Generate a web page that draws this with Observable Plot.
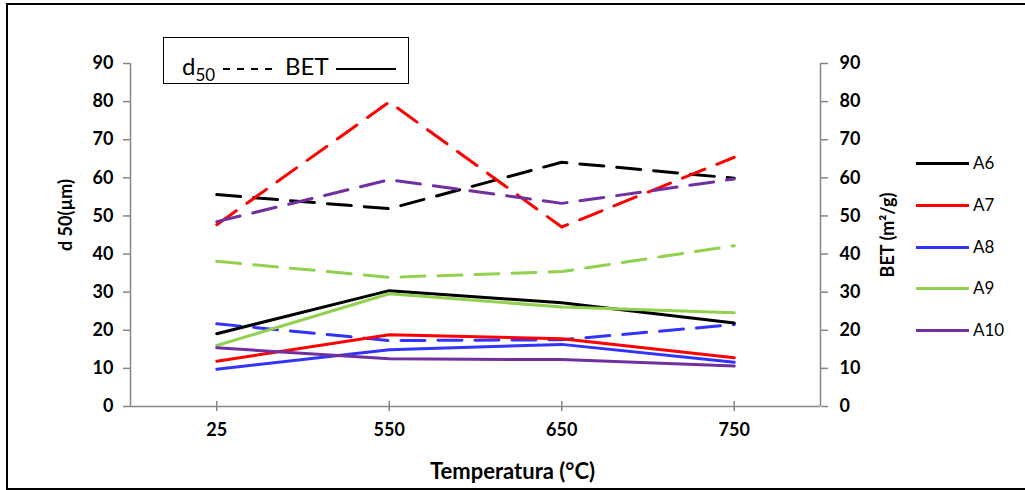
<!DOCTYPE html>
<html><head><meta charset="utf-8">
<script src="https://cdn.jsdelivr.net/npm/d3@7"></script>
<script src="https://cdn.jsdelivr.net/npm/@observablehq/plot@0.6"></script>
<style>
body{margin:0;background:#fff;}
#wrap{position:relative;width:1025px;height:490px;overflow:hidden;font-family:Lato,"Open Sans",sans-serif;}
#border{position:absolute;left:6px;top:3px;width:1040px;height:487px;border:2px solid #000;box-sizing:border-box;pointer-events:none;}
#chart{position:absolute;left:0;top:0;}
#kind{position:absolute;left:163px;top:37px;width:246px;height:47px;border:1.5px solid #000;box-sizing:border-box;background:#fff;}
#kind span{position:absolute;font-size:24px;line-height:24px;white-space:nowrap;}
#kind sub{font-size:17px;vertical-align:-6px;line-height:0;}
#kind svg{position:absolute;left:0;top:0;}
.leg{position:absolute;left:916px;height:0;}
.leg .sw{position:absolute;left:0;top:-1.5px;width:53px;height:3px;}
.leg .lb{position:absolute;left:57px;top:-11px;font-size:17px;line-height:22px;}
</style></head>
<body>
<div id="wrap">
  <div id="chart"></div>
  <div id="kind">
    <span style="left:18px;top:16px">d<sub>50</sub></span>
    <span style="left:121px;top:16px">BET</span>
    <svg width="246" height="47">
      <line x1="59" y1="31" x2="113" y2="31" stroke="#000" stroke-width="1.8" stroke-dasharray="7,7"></line>
      <line x1="172" y1="31" x2="232" y2="31" stroke="#000" stroke-width="1.8"></line>
    </svg>
  </div>
  <div id="legend"></div>
  <div id="border"></div>
</div>
<script>
const temps = ["25", "550", "650", "750"];
const series = ["A6", "A7", "A8", "A9", "A10"];
const colors = ["#000000", "#FF0000", "#3333FF", "#92D050", "#7030A0"];
const yTicks = [0, 10, 20, 30, 40, 50, 60, 70, 80, 90];

// d50 (dashed lines)
const d50A6  = [55.6, 51.9, 64.1, 59.9];
const d50A7  = [47.7, 79.9, 47.1, 65.4];
const d50A8  = [21.7, 17.3, 17.5, 21.5];
const d50A9  = [38.1, 33.9, 35.4, 42.2];
const d50A10 = [48.5, 59.5, 53.3, 59.7];

// BET (solid lines)
const betA6  = [19.1, 30.4, 27.2, 21.9];
const betA7  = [11.9, 18.8, 17.8, 12.8];
const betA8  = [9.8, 14.9, 16.3, 11.6];
const betA9  = [16.0, 29.6, 26.1, 24.6];
const betA10 = [15.4, 12.5, 12.3, 10.6];

const d50 = [d50A6, d50A7, d50A8, d50A9, d50A10];
const bet = [betA6, betA7, betA8, betA9, betA10];

const rowsD50 = [], rowsBet = [];
series.forEach((s, i) => temps.forEach((t, j) => {
  rowsD50.push({xi: j, series: s, value: d50[i][j]});
  rowsBet.push({xi: j, series: s, value: bet[i][j]});
}));

// categorical positions: each temperature sits in the middle of its slot
const xDomain = [-0.5, temps.length - 0.5];
const xTicks = temps.map((t, i) => i);

const axisGray = "#868686";
const chart = Plot.plot({
  width: 1025, height: 490,
  marginLeft: 130, marginRight: 205, marginTop: 63, marginBottom: 84,
  style: {fontFamily: "Lato, 'Open Sans', sans-serif", fontSize: "18px", fontWeight: "bold", color: "#000", background: "transparent", overflow: "visible"},
  x: {type: "linear", domain: xDomain},
  y: {domain: [0, 90]},
  color: {domain: series, range: colors},
  marks: [
    Plot.ruleX(xDomain, {stroke: axisGray, strokeWidth: 1.5}),
    Plot.ruleY([0], {stroke: axisGray, strokeWidth: 1.5}),
    Plot.axisY({anchor: "left", ticks: yTicks, tickSize: 7, tickPadding: 10, stroke: axisGray, strokeWidth: 1.5, label: null}),
    Plot.axisY({anchor: "right", ticks: yTicks, tickSize: 7, tickPadding: 12, stroke: axisGray, strokeWidth: 1.5, label: null}),
    Plot.axisX({ticks: xTicks, tickFormat: i => temps[i], tickSize: 5, tickPadding: 12, stroke: axisGray, strokeWidth: 1.5, label: null}),
    Plot.axisX({ticks: xTicks, tickFormat: () => "", tickSize: -5, stroke: axisGray, strokeWidth: 1.5, label: null}),
    Plot.line(rowsD50, {x: "xi", y: "value", z: "series", stroke: "series", strokeWidth: 3, strokeDasharray: "24,13", strokeLinecap: "round", strokeLinejoin: "round"}),
    Plot.line(rowsBet, {x: "xi", y: "value", z: "series", stroke: "series", strokeWidth: 3, strokeLinejoin: "round"}),
    Plot.text(["d 50(µm)"], {text: d => d, frameAnchor: "left", textAnchor: "middle", dx: -64, dy: -20, rotate: -90, fontSize: 18, fontWeight: "bold"}),
    Plot.text(["BET (m²/g)"], {text: d => d, frameAnchor: "right", textAnchor: "middle", dx: 68, rotate: -90, fontSize: 18, fontWeight: "bold"}),
    Plot.text(["Temperatura (°C)"], {text: d => d, frameAnchor: "bottom", textAnchor: "middle", dx: 37, dy: 72, fontSize: 22, fontWeight: "bold"})
  ]
});
document.getElementById("chart").appendChild(chart);

const legendTops = [163, 205, 247, 288, 330];
const leg = document.getElementById("legend");
series.forEach((s, i) => {
  const d = document.createElement("div");
  d.className = "leg";
  d.style.top = legendTops[i] + "px";
  d.innerHTML = `<div class="sw" style="background:${colors[i]}"></div><div class="lb">${s}</div>`;
  leg.appendChild(d);
});
</script>
</body></html>
